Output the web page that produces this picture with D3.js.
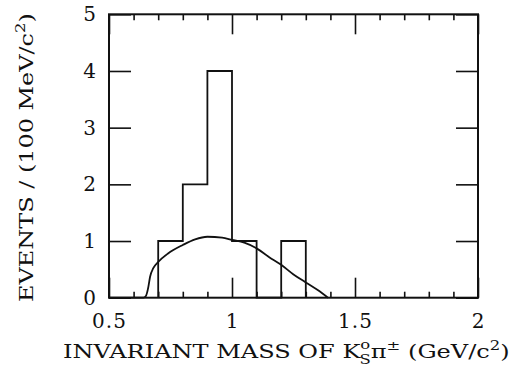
<!DOCTYPE html>
<html>
<head>
<meta charset="utf-8">
<script src="https://cdn.jsdelivr.net/npm/d3@7"></script>
<style>
  html, body { margin: 0; padding: 0; background: #fff; }
  svg { display: block; }
  text { font-family: "DejaVu Serif", serif; fill: #111; }
</style>
</head>
<body>
<svg id="chart" width="524" height="366"></svg>
<script>
// ---- data ----
const binEdges = [0.7, 0.8, 0.9, 1.0, 1.1, 1.2, 1.3];
const binCounts = [1, 2, 4, 1, 0, 1];
const curveX = [0.5, 0.64, 0.65, 0.66, 0.667, 0.68, 0.70, 0.74, 0.80, 0.85, 0.90, 0.96, 1.00, 1.05, 1.10, 1.15, 1.20, 1.25, 1.30, 1.35, 1.39];
const curveY = [0, 0, 0.03, 0.19, 0.37, 0.52, 0.63, 0.78, 0.93, 1.03, 1.075, 1.06, 1.02, 0.97, 0.87, 0.72, 0.58, 0.41, 0.27, 0.13, 0];
const xMajorTicks = [0.5, 1, 1.5, 2];
const xTickLabels = ["0.5", "1", "1.5", "2"];
const xMinorTicks = [0.6, 0.7, 0.8, 0.9, 1.1, 1.2, 1.3, 1.4, 1.6, 1.7, 1.8, 1.9];
const yTicks = [0, 1, 2, 3, 4, 5];
const yTickLabels = ["0", "1", "2", "3", "4", "5"];

// ---- layout ----
const L = 109, R = 478, T = 14.3, B = 297.7;
const x = d3.scaleLinear().domain([0.5, 2]).range([L, R]);
const y = d3.scaleLinear().domain([0, 5]).range([B, T]);
const svg = d3.select("#chart");
const fs = 19;

// frame
svg.append("rect").attr("x", L).attr("y", T).attr("width", R - L).attr("height", B - T)
  .attr("fill", "none").attr("stroke", "#111").attr("stroke-width", 2);

function styleAxis(g) {
  g.select(".domain").remove();
  g.selectAll(".tick line").attr("stroke", "#111").attr("stroke-width", 1.6);
  g.selectAll(".tick text").attr("font-family", "DejaVu Serif").attr("font-size", 20)
    .attr("letter-spacing", 1).attr("fill", "#111");
}

// bottom major with labels
svg.append("g").attr("transform", `translate(0,${B})`)
  .call(d3.axisBottom(x).tickValues(xMajorTicks).tickSize(-20).tickPadding(16)
    .tickFormat((d, i) => xTickLabels[i]))
  .call(styleAxis);
// bottom minor
svg.append("g").attr("transform", `translate(0,${B})`)
  .call(d3.axisBottom(x).tickValues(xMinorTicks).tickSize(-6).tickFormat(""))
  .call(styleAxis);
// top major/minor
svg.append("g").attr("transform", `translate(0,${T})`)
  .call(d3.axisTop(x).tickValues(xMajorTicks).tickSize(-20).tickFormat(""))
  .call(styleAxis);
svg.append("g").attr("transform", `translate(0,${T})`)
  .call(d3.axisTop(x).tickValues(xMinorTicks).tickSize(-6).tickFormat(""))
  .call(styleAxis);
// left
svg.append("g").attr("transform", `translate(${L},0)`)
  .call(d3.axisLeft(y).tickValues(yTicks).tickSize(-22).tickPadding(12)
    .tickFormat((d, i) => yTickLabels[i]))
  .call(styleAxis);
// right
svg.append("g").attr("transform", `translate(${R},0)`)
  .call(d3.axisRight(y).tickValues(yTicks).tickSize(-22).tickFormat(""))
  .call(styleAxis);

// histogram outline
const histPts = [[binEdges[0], 0]];
binCounts.forEach((c, i) => {
  histPts.push([binEdges[i], c]);
  histPts.push([binEdges[i + 1], c]);
});
histPts.push([binEdges[binEdges.length - 1], 0]);
svg.append("path")
  .attr("d", d3.line().x(d => x(d[0])).y(d => y(d[1]))(histPts))
  .attr("fill", "none").attr("stroke", "#111").attr("stroke-width", 1.8);

// phase-space curve
const curvePts = curveX.map((v, i) => [v, curveY[i]]);
svg.append("path")
  .attr("d", d3.line().x(d => x(d[0])).y(d => y(d[1])).curve(d3.curveMonotoneX)(curvePts))
  .attr("fill", "none").attr("stroke", "#111").attr("stroke-width", 1.8);

function fitWidth(textSel, target) {
  const w = textSel.node().getBBox().width;
  return target / w;
}

// x label
const xl = svg.append("g");
const xt = xl.append("text").attr("font-size", fs).attr("text-anchor", "start").attr("x", 0).attr("y", 0)
  .attr("xml:space", "preserve");
xt.append("tspan").text("INVARIANT MASS OF K");
xt.append("tspan").attr("font-size", 13).attr("dy", -9).text("o");
xt.append("tspan").attr("font-size", 13).attr("dx", -8.5).attr("dy", 15).text("S");
xt.append("tspan").attr("dy", -6).text("π");
xt.append("tspan").attr("font-size", 13).attr("dy", -8).text("±");
xt.append("tspan").attr("dy", 8).text(" (GeV/c");
xt.append("tspan").attr("font-size", 13).attr("dy", -8).text("2");
xt.append("tspan").attr("dy", 8).text(")");
const sx = fitWidth(xt, 447);
xl.attr("transform", `translate(63,358) scale(${sx},1)`);

// y label
const yl = svg.append("g");
const yt = yl.append("text").attr("font-size", fs).attr("text-anchor", "start").attr("x", 0).attr("y", 0);
yt.append("tspan").text("EVENTS / (100 MeV/c");
yt.append("tspan").attr("font-size", 13).attr("dy", -8).text("2");
yt.append("tspan").attr("dy", 8).text(")");
const sy = fitWidth(yt, 289);
yl.attr("transform", `translate(33,302) rotate(-90) scale(${sy},1)`);
</script>
</body>
</html>
